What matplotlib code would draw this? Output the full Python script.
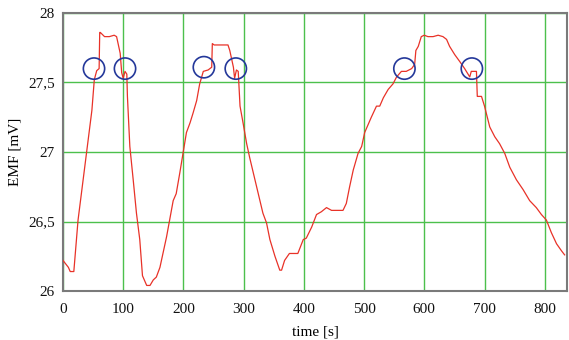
import matplotlib
matplotlib.use("Agg")
import matplotlib.pyplot as plt
from matplotlib.ticker import FixedLocator

time_s = [0, 9, 12, 18, 25, 39, 48, 52, 56, 60, 61, 62, 69, 77, 85, 89, 95, 97.5, 100, 103, 106,
          107, 111, 116.6, 122, 127.5, 132, 139, 144.5, 150, 155, 161, 166, 172, 177, 183, 188, 194,
          200, 205, 211, 216, 222, 227, 233, 241, 247, 248, 251, 257, 265, 274, 277, 283, 285, 288,
          291, 294, 299, 305, 310, 316, 324, 332, 338, 343.6, 352, 360, 363, 368, 376, 385, 390,
          399, 404, 413, 421, 429, 437.6, 446, 454, 465, 470.5, 476, 482, 490, 496, 501, 507,
          512, 520.6, 526, 532, 540, 548, 554, 562, 570, 579, 584, 586, 590, 595, 600, 606,
          614.6, 623, 631, 637, 642, 650.6, 659, 667, 675.5, 678, 684, 686.6, 688, 695, 700,
          708.7, 717, 725, 733.6, 742, 753, 764, 775, 786, 794.5, 802.8, 811, 819.6, 827.7, 833]
emf_mv = [26.22, 26.17, 26.14, 26.14, 26.51, 26.99, 27.30, 27.52, 27.585, 27.60, 27.86, 27.86,
          27.83, 27.83, 27.84, 27.83, 27.71, 27.57, 27.53, 27.58, 27.56,
          27.40, 27.04, 26.80, 26.56, 26.37, 26.11, 26.04, 26.04, 26.08, 26.10, 26.17, 26.27,
          26.39, 26.51, 26.65, 26.70, 26.85,
          27.01, 27.14, 27.21, 27.28, 27.37, 27.49, 27.58, 27.59, 27.61, 27.78, 27.77, 27.77,
          27.77, 27.77, 27.73, 27.61, 27.53, 27.59,
          27.58, 27.33, 27.21, 27.06, 26.96, 26.85, 26.70, 26.56, 26.49, 26.37, 26.25, 26.15,
          26.15, 26.22, 26.27, 26.27, 26.27,
          26.37, 26.38, 26.46, 26.55, 26.57, 26.60, 26.58, 26.58, 26.58, 26.63, 26.75, 26.87,
          26.99, 27.04, 27.14, 27.20,
          27.25, 27.33, 27.33, 27.39, 27.45, 27.49, 27.54, 27.58, 27.58, 27.60, 27.63, 27.73,
          27.76, 27.83, 27.84, 27.83,
          27.83, 27.84, 27.83, 27.81, 27.76, 27.70, 27.65, 27.60, 27.54, 27.58, 27.58, 27.58,
          27.40, 27.40, 27.33,
          27.18, 27.11, 27.06, 26.99, 26.89, 26.80, 26.73, 26.65, 26.60, 26.55, 26.51, 26.42,
          26.34, 26.29, 26.26]

circle_t = [51.5, 103, 234, 287, 567, 679]
circle_v = [27.60, 27.60, 27.61, 27.60, 27.60, 27.60]

x_ticks = [0, 100, 200, 300, 400, 500, 600, 700, 800]
y_ticks = [26, 26.5, 27, 27.5, 28]
y_tick_labels = ["26", "26,5", "27", "27,5", "28"]

plt.rcParams['font.family'] = ['Liberation Serif', 'DejaVu Serif']

fig = plt.figure(figsize=(5.69, 3.40), dpi=100)
ax = fig.add_axes([0.1107, 0.1441, 0.8858, 0.8177])

ax.plot(time_s, emf_mv, color='#e83228', linewidth=0.9, zorder=3)
ax.scatter(circle_t, circle_v, s=235, facecolors='none', edgecolors='#24389a',
           linewidths=1.2, zorder=4)

ax.set_xlim(0, 837)
ax.set_ylim(26, 28)
ax.xaxis.set_major_locator(FixedLocator(x_ticks))
ax.set_yticks(y_ticks)
ax.set_yticklabels(y_tick_labels)
ax.grid(True, color='#4cc04c', linewidth=1.0, zorder=1)
ax.set_axisbelow(True)
ax.tick_params(length=0, labelsize=11, colors='#111111')
ax.tick_params(axis='x', pad=8.5)
ax.tick_params(axis='y', pad=6)
for sp in ax.spines.values():
    sp.set_color('#7a7a7a')
    sp.set_linewidth(1.5)

ax.set_xlabel('time [s]', fontsize=11, labelpad=7)
ax.set_ylabel('EMF [mV]', fontsize=11, labelpad=4.5)

fig.savefig('out.png', dpi=100)
